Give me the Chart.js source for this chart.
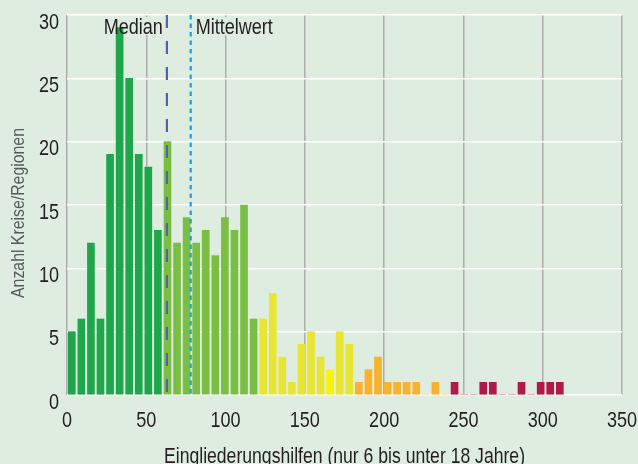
<!DOCTYPE html>
<html>
<head>
<meta charset="utf-8">
<script src="https://cdn.jsdelivr.net/npm/chart.js@4.4.1/dist/chart.umd.min.js"></script>
<style>
  html, body { margin: 0; padding: 0; background: #deede0; }
  #wrap { width: 638px; height: 464px; position: relative; }
</style>
</head>
<body>
<div id="wrap"><canvas id="c"></canvas></div>
<script>
// histogram: 58 equal bins over 0..350, only the first 52 are filled
const rangeMax = 350;
const binCount = 58;
const counts = [5, 6, 12, 6, 19, 29, 25, 19, 18, 13,
                20, 12, 14, 12, 13, 11, 14, 13, 15, 6,
                6, 8, 3, 1, 4, 5, 3, 2, 5, 4,
                1, 2, 3, 1, 1, 1, 1, 0, 1, 0,
                1, 0, 0, 1, 1, 0, 0, 1, 0, 1,
                1, 1];
const xTicks = [0, 50, 100, 150, 200, 250, 300, 350];
const yTicks = [0, 5, 10, 15, 20, 25, 30];
const medianValue = 63;
const meanValue = 78;

const xTitle = 'Eingliederungshilfen (nur 6 bis unter 18 Jahre)';
const yTitle = 'Anzahl Kreise/Regionen';

const bg = '#deede0';
const ink = '#231f20';
const face = '"Liberation Sans", Arial, sans-serif';

const binWidth = rangeMax / binCount;
let points = counts.map((v, i) => ({ x: (i + 0.5) * binWidth, y: v }));

function barColor(i) {
  if (i < 10) return '#1ea64a';
  if (i < 20) return '#7abf43';
  if (i === 27) return '#fff200';
  if (i < 30) return '#e8e535';
  if (i < 40) return '#f8b22d';
  return '#b01a48';
}

// condensed look: Liberation Sans squeezed like Arial Narrow
function narrowText(ctx, text, x, y, align, size, color, squeeze, rot) {
  ctx.save();
  ctx.font = size + 'px ' + face;
  ctx.fillStyle = color;
  ctx.textBaseline = 'alphabetic';
  ctx.textAlign = align;
  ctx.translate(x, y);
  if (rot) ctx.rotate(rot);
  ctx.scale(squeeze, 1);
  ctx.fillText(text, 0, 0);
  ctx.restore();
}

function narrowWidth(ctx, text, size, squeeze) {
  ctx.save();
  ctx.font = size + 'px ' + face;
  let w = ctx.measureText(text).width * squeeze;
  ctx.restore();
  return w;
}

let markers = {
  id: 'markers',
  beforeDatasetsDraw(chart) {
    let ctx = chart.ctx;
    let x = chart.scales.x;
    let top = chart.chartArea.top;
    let mx = x.getPixelForValue(medianValue);
    let ax = x.getPixelForValue(meanValue);
    let wm = narrowWidth(ctx, 'Median', 22, 0.82);
    let wa = narrowWidth(ctx, 'Mittelwert', 22, 0.82);
    ctx.save();
    ctx.fillStyle = bg;
    ctx.fillRect(mx - 4 - wm - 2, top + 2, wm + 4, 18);
    ctx.fillRect(ax + 5 - 2, top + 2, wa + 4, 18);
    ctx.restore();
  },
  afterDatasetsDraw(chart) {
    let ctx = chart.ctx;
    let x = chart.scales.x;
    let { top, bottom } = chart.chartArea;
    let mx = x.getPixelForValue(medianValue);
    let ax = x.getPixelForValue(meanValue);

    narrowText(ctx, 'Median', mx - 4, top + 19, 'right', 22, ink, 0.82);
    narrowText(ctx, 'Mittelwert', ax + 5, top + 19, 'left', 22, ink, 0.82);

    ctx.save();
    ctx.lineWidth = 2.2;
    ctx.strokeStyle = '#5361ad';
    ctx.setLineDash([13, 13]);
    ctx.beginPath();
    ctx.moveTo(mx, top);
    ctx.lineTo(mx, bottom);
    ctx.stroke();

    ctx.strokeStyle = '#1ca2d8';
    ctx.setLineDash([4.5, 4]);
    ctx.beginPath();
    ctx.moveTo(ax, top);
    ctx.lineTo(ax, bottom);
    ctx.stroke();
    ctx.restore();
  },
  afterDraw(chart) {
    let ctx = chart.ctx;
    let x = chart.scales.x;
    let y = chart.scales.y;
    let { top, bottom, left, right } = chart.chartArea;

    x.ticks.forEach(t => {
      narrowText(ctx, String(t.value), x.getPixelForValue(t.value), bottom + 32, 'center', 22, ink, 0.82);
    });
    y.ticks.forEach(t => {
      narrowText(ctx, String(t.value), left - 8, y.getPixelForValue(t.value) + 13.5, 'right', 22, ink, 0.82);
    });

    narrowText(ctx, xTitle, (left + right) / 2, 462.5, 'center', 22, ink, 0.8);
    narrowText(ctx, yTitle, 24, 213, 'center', 18, '#58595b', 0.88, -Math.PI / 2);
  }
};

new Chart(document.getElementById('c'), {
  type: 'bar',
  data: {
    datasets: [{
      data: points,
      backgroundColor: counts.map((v, i) => barColor(i)),
      barThickness: 7,
      borderWidth: 0
    }]
  },
  options: {
    responsive: true,
    maintainAspectRatio: false,
    animation: false,
    layout: { padding: { top: 15, right: 16, left: 0, bottom: 0 } },
    plugins: {
      legend: { display: false },
      tooltip: { enabled: false }
    },
    scales: {
      x: {
        type: 'linear',
        offset: false,
        min: 0,
        max: rangeMax,
        afterBuildTicks: s => { s.ticks = xTicks.map(v => ({ value: v })); },
        afterFit: s => { s.height = 69; },
        grid: { color: '#adadad', lineWidth: 1.5, drawTicks: false, offset: false },
        border: { display: false },
        ticks: { display: false }
      },
      y: {
        min: 0,
        max: 30,
        afterBuildTicks: s => { s.ticks = yTicks.map(v => ({ value: v })); },
        afterFit: s => { s.width = 67; },
        grid: { color: '#ffffff', lineWidth: 1.5, drawTicks: false },
        border: { display: false },
        ticks: { display: false }
      }
    }
  },
  plugins: [markers]
});
</script>
</body>
</html>
